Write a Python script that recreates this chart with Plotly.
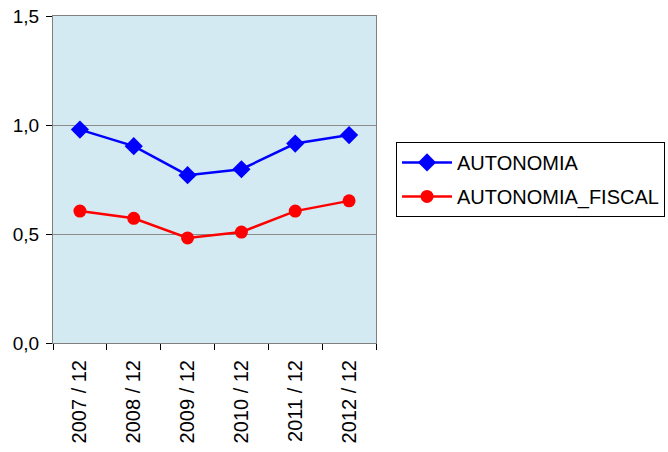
import plotly.graph_objects as go

periods = ["2007 / 12", "2008 / 12", "2009 / 12", "2010 / 12", "2011 / 12", "2012 / 12"]
autonomia = [0.979, 0.903, 0.770, 0.797, 0.915, 0.954]
autonomia_fiscal = [0.605, 0.572, 0.482, 0.509, 0.605, 0.652]
y_ticks = [0.0, 0.5, 1.0, 1.5]

font_family = "Liberation Sans, Arial, sans-serif"

fig = go.Figure()
fig.add_trace(go.Scatter(
    x=periods, y=autonomia, name="AUTONOMIA", mode="lines+markers",
    line=dict(color="#0000FF", width=2.5),
    marker=dict(symbol="diamond", size=14, color="#0000FF"),
    legendgroup="a",
))
fig.add_trace(go.Scatter(
    x=periods, y=autonomia_fiscal, name="AUTONOMIA_FISCAL", mode="lines+markers",
    line=dict(color="#FF0000", width=2.5),
    marker=dict(symbol="circle", size=13, color="#FF0000"),
    legendgroup="b",
))

fig.update_layout(
    width=668, height=452,
    margin=dict(l=53, r=292, t=16, b=109, autoexpand=False),
    paper_bgcolor="white",
    plot_bgcolor="#D3EAF2",
    separators=", ",
    font=dict(family=font_family, size=20, color="black"),
    showlegend=True,
    legend=dict(
        x=1.062, y=0.615, xanchor="left", yanchor="top",
        bordercolor="black", borderwidth=1, bgcolor="white",
        font=dict(size=20), traceorder="grouped", tracegroupgap=5,
        itemwidth=50,
    ),
)
fig.update_xaxes(
    type="category", range=[-0.5, 5.5], tickson="boundaries",
    ticks="outside", ticklen=6, tickcolor="black",
    showline=True, linecolor="#808080", linewidth=1, mirror=True,
    tickangle=-90, showgrid=False, ticklabelstandoff=8,
)
fig.update_yaxes(
    range=[0, 1.5], tickvals=y_ticks, tickformat=".1f",
    ticks="outside", ticklen=6, tickcolor="black",
    showline=True, linecolor="#808080", linewidth=1, mirror=True,
    showgrid=True, gridcolor="#8C8C8C", gridwidth=1, zeroline=False,
    ticklabelstandoff=3, tickfont=dict(size=19),
)

fig.write_html("out.html", config={"displayModeBar": False},
               post_script="document.body.style.margin='0px';")
